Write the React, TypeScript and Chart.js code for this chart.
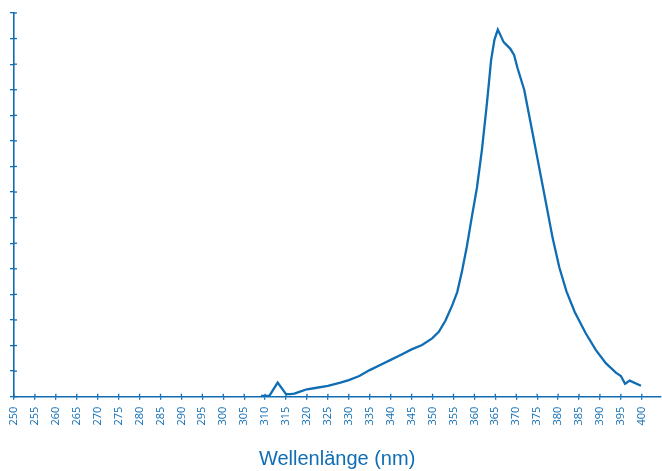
import React, { useEffect, useRef } from "react";
import { Chart, registerables } from "chart.js";

Chart.register(...registerables);

const wavelengths = [
  309, 310, 311, 313, 315, 316, 317, 318, 320, 322, 325, 328, 330, 332.5, 335,
  337.5, 340, 342.5, 345, 347.5, 349.9, 351.5, 353.1, 354.7, 355.9, 357.0,
  358.2, 359.4, 360.6, 361.8, 363.0, 364.0, 364.8, 365.6, 367.0, 368.6, 369.5,
  370.3, 371.9, 373.5, 375.2, 376.9, 378.7, 380.3, 382.0, 384.0, 386.6, 389,
  391.4, 393.8, 395, 396, 397.1, 399.8,
];
const intensities = [
  0.03, 0.03, 0.03, 0.55, 0.1, 0.1, 0.12, 0.18, 0.29, 0.34, 0.42, 0.55, 0.65,
  0.81, 1.04, 1.24, 1.44, 1.64, 1.85, 2.02, 2.28, 2.54, 2.98, 3.57, 4.09, 4.87,
  5.87, 7.04, 8.16, 9.65, 11.48, 13.17, 13.96, 14.35, 13.86, 13.6, 13.35,
  12.85, 12.0, 10.65, 9.2, 7.75, 6.2, 5.05, 4.12, 3.3, 2.48, 1.83, 1.31, 0.94,
  0.81, 0.5, 0.63, 0.43,
];
const xMin = 250;
const xMax = 404.4;
const xStep = 5;
const yMin = 0;
const yMax = 15;
const yStep = 1;
const xTitle = "Wellenlänge (nm)";

const BLUE = "#0f6db4";

const innerTicks = {
  id: "innerTicks",
  afterDraw(chart: any) {
    const { ctx, chartArea, scales } = chart;
    ctx.save();
    ctx.strokeStyle = BLUE;
    ctx.lineWidth = 1.3;
    const xs = scales.x;
    xs.ticks.forEach((_t: any, i: number) => {
      const px = xs.getPixelForTick(i);
      ctx.beginPath();
      ctx.moveTo(px, chartArea.bottom);
      ctx.lineTo(px, chartArea.bottom - 3);
      ctx.stroke();
    });
    const ys = scales.y;
    ys.ticks.forEach((_t: any, i: number) => {
      const py = ys.getPixelForTick(i);
      ctx.beginPath();
      ctx.moveTo(chartArea.left, py);
      ctx.lineTo(chartArea.left + 3, py);
      ctx.stroke();
    });
    ctx.restore();
  },
};

export default function App() {
  const ref = useRef<HTMLCanvasElement | null>(null);
  useEffect(() => {
    document.body.style.margin = "0";
    const canvas = ref.current!;
    const chart = new Chart(canvas, {
      type: "line",
      data: {
        datasets: [
          {
            data: wavelengths.map((x, i) => ({ x, y: intensities[i] })),
            borderColor: BLUE,
            borderWidth: 2.3,
            pointRadius: 0,
            tension: 0,
            fill: false,
          },
        ],
      },
      options: {
        animation: false,
        responsive: false,
        devicePixelRatio: 1,
        layout: { padding: { left: 10, top: 13, right: 0, bottom: 0 } },
        plugins: { legend: { display: false }, tooltip: { enabled: false } },
        scales: {
          x: {
            type: "linear",
            min: xMin,
            max: xMax,
            afterFit: (s: any) => {
              s.height = 74.3;
            },
            ticks: {
              stepSize: xStep,
              includeBounds: false,
              minRotation: 90,
              maxRotation: 90,
              autoSkip: false,
              padding: 7,
              color: BLUE,
              font: { family: "'Open Sans', 'Liberation Sans', sans-serif", size: 11 },
            },
            grid: {
              drawOnChartArea: false,
              drawTicks: true,
              tickLength: 3,
              color: BLUE,
              lineWidth: 1.3,
            },
            border: { display: true, color: BLUE, width: 1.6 },
            title: {
              display: true,
              text: xTitle,
              color: BLUE,
              font: { family: "'Liberation Sans', Arial, sans-serif", size: 20, lineHeight: 1.2 },
              padding: { top: 0, bottom: 0 },
            },
          },
          y: {
            type: "linear",
            min: yMin,
            max: yMax,
            afterFit: (s: any) => {
              s.width = 4;
            },
            ticks: { display: false, stepSize: yStep },
            grid: {
              drawOnChartArea: false,
              drawTicks: true,
              tickLength: 4,
              color: BLUE,
              lineWidth: 1.3,
            },
            border: { display: true, color: BLUE, width: 1.6 },
          },
        },
      },
      plugins: [innerTicks],
    });
    return () => chart.destroy();
  }, []);
  return (
    <div style={{ position: "absolute", left: 0, top: 0, width: 662, height: 471, background: "#fff" }}>
      <canvas ref={ref} width={662} height={471} />
    </div>
  );
}
